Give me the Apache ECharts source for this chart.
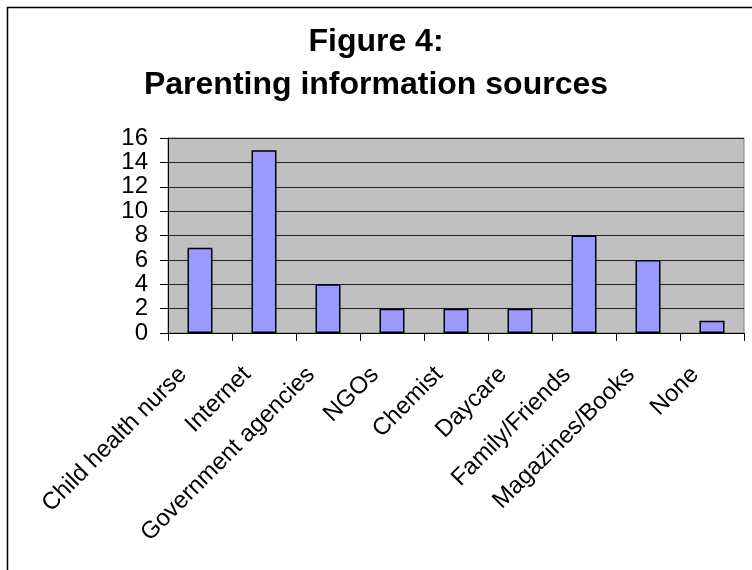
<!DOCTYPE html>
<html>
<head>
<meta charset="utf-8">
<script src="https://cdn.jsdelivr.net/npm/echarts@6/dist/echarts.min.js"></script>
<style>
  html, body { margin: 0; padding: 0; background: #ffffff; }
  #chart { width: 752px; height: 570px; }
</style>
</head>
<body>
<div id="chart"></div>
<script>
// Survey responses: where parents get their parenting information
var categories = [
  'Child health nurse', 'Internet', 'Government agencies', 'NGOs',
  'Chemist', 'Daycare', 'Family/Friends', 'Magazines/Books', 'None'
];
var counts = [7, 15, 4, 2, 2, 2, 8, 6, 1];
var yTicks = { min: 0, max: 16, step: 2 };
var titleLines = ['Figure 4:', 'Parenting information sources'];

var FONT = 'Arial, "Liberation Sans", sans-serif';
var chart = echarts.init(document.getElementById('chart'), null, { renderer: 'canvas' });

chart.setOption({
  animation: false,
  backgroundColor: '#ffffff',
  title: {
    text: titleLines.join('\n'),
    left: 'center',
    top: 16,
    textStyle: {
      fontFamily: FONT,
      fontWeight: 'bold',
      fontSize: 32,
      lineHeight: 43,
      color: '#000000'
    }
  },
  graphic: [
    {
      type: 'polyline',
      shape: { points: [[7.5, 570], [7.5, 7.5], [752, 7.5]] },
      style: { stroke: '#000000', lineWidth: 1.5, fill: null },
      silent: true
    }
  ],
  grid: {
    left: 168,
    right: 8,
    top: 138,
    bottom: 237,
    show: true,
    backgroundColor: '#C0C0C0',
    borderColor: '#808080',
    borderWidth: 1
  },
  xAxis: {
    type: 'category',
    data: categories,
    axisLine: { show: true, lineStyle: { color: '#000000', width: 1 } },
    axisTick: { show: true, inside: false, length: 8, lineStyle: { color: '#000000' } },
    axisLabel: {
      rotate: 45,
      interval: 0,
      margin: 21,
      padding: [0, 24, 0, 0],
      fontFamily: FONT,
      fontSize: 24,
      color: '#000000'
    },
    splitLine: { show: false }
  },
  yAxis: {
    type: 'value',
    min: yTicks.min,
    max: yTicks.max,
    interval: yTicks.step,
    axisLine: { show: true, lineStyle: { color: '#000000', width: 1 } },
    axisTick: { show: true, inside: false, length: 8, lineStyle: { color: '#000000' } },
    axisLabel: {
      margin: 20,
      fontFamily: FONT,
      fontSize: 24,
      lineHeight: 20,
      color: '#000000',
      showMinLabel: true,
      showMaxLabel: true,
      hideOverlap: false
    },
    splitLine: { show: true, lineStyle: { color: '#222222', width: 1 } }
  },
  series: [
    {
      type: 'bar',
      data: counts,
      barWidth: 25,
      itemStyle: {
        color: '#9999FF',
        borderColor: '#000000',
        borderWidth: 1.5
      }
    }
  ]
});
</script>
</body>
</html>
